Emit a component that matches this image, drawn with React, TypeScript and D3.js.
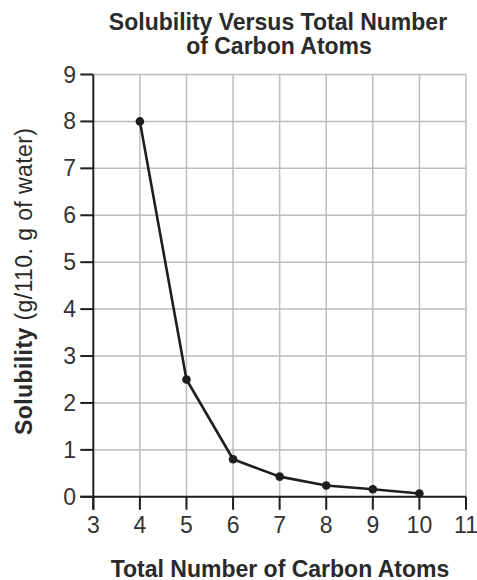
import React from "react";
import * as d3 from "d3";

const carbonAtoms = [4, 5, 6, 7, 8, 9, 10];
const solubility = [8, 2.5, 0.8, 0.43, 0.24, 0.16, 0.07];
const xTicks = [3, 4, 5, 6, 7, 8, 9, 10, 11];
const yTicks = [0, 1, 2, 3, 4, 5, 6, 7, 8, 9];
const titleLines = ["Solubility Versus Total Number", "of Carbon Atoms"];
const xTitle = "Total Number of Carbon Atoms";
const yTitleBold = "Solubility";
const yTitleRest = " (g/110. g of water)";

const W = 477;
const H = 580;
const FONT = "'Liberation Sans', Arial, Helvetica, sans-serif";

export default function App() {
  const x = d3.scaleLinear().domain([3, 11]).range([93.3, 466]);
  const y = d3.scaleLinear().domain([0, 9]).range([496.8, 74.5]);
  const pts = carbonAtoms.map((c, i) => [x(c), y(solubility[i])] as [number, number]);
  const line = d3.line()(pts) || "";
  const tickLen = 13;
  const ink = "#1e1e1e";
  const grid = "#bdbdbd";

  return (
    <svg
      width={W}
      height={H}
      viewBox={`0 0 ${W} ${H}`}
      style={{ position: "absolute", left: 0, top: 0, background: "#fff" }}
      fontFamily={FONT}
    >
      <rect x={0} y={0} width={W} height={H} fill="#fff" />
      {/* title */}
      <text x={278} y={30} textAnchor="middle" fontWeight="bold" fontSize={23} fill="#2a2a2a">
        {titleLines[0]}
      </text>
      <text x={279} y={54} textAnchor="middle" fontWeight="bold" fontSize={23} fill="#2a2a2a">
        {titleLines[1]}
      </text>

      {/* grid */}
      {yTicks.filter((t) => t > 0).map((t) => (
        <line key={"gy" + t} x1={x(3)} x2={x(11)} y1={y(t)} y2={y(t)} stroke={grid} strokeWidth={1.5} />
      ))}
      {xTicks.filter((t) => t > 3).map((t) => (
        <line key={"gx" + t} x1={x(t)} x2={x(t)} y1={y(9)} y2={y(0)} stroke={grid} strokeWidth={1.5} />
      ))}

      {/* axes */}
      <line x1={x(3)} x2={x(3)} y1={y(9)} y2={y(0) + tickLen} stroke={ink} strokeWidth={2} />
      <line x1={x(3) - tickLen} x2={x(11)} y1={y(0)} y2={y(0)} stroke={ink} strokeWidth={2} />
      {yTicks.map((t) => (
        <g key={"yt" + t}>
          <line x1={x(3) - tickLen} x2={x(3)} y1={y(t)} y2={y(t)} stroke={ink} strokeWidth={2} />
          <text x={76} y={y(t)} dy="0.35em" textAnchor="end" fontSize={23} fill="#333">
            {t}
          </text>
        </g>
      ))}
      {xTicks.map((t) => (
        <g key={"xt" + t}>
          <line x1={x(t)} x2={x(t)} y1={y(0)} y2={y(0) + tickLen} stroke={ink} strokeWidth={2} />
          <text x={x(t)} y={533} textAnchor="middle" fontSize={23} fill="#333">
            {t}
          </text>
        </g>
      ))}

      {/* data */}
      <path d={line} fill="none" stroke={ink} strokeWidth={2.6} strokeLinejoin="round" />
      {pts.map((p, i) => (
        <circle key={"p" + i} cx={p[0]} cy={p[1]} r={4.3} fill={ink} />
      ))}

      {/* axis titles */}
      <text x={280} y={576.5} textAnchor="middle" fontWeight="bold" fontSize={23} fill="#2a2a2a">
        {xTitle}
      </text>
      <text
        transform={`translate(31.5, ${281.5}) rotate(-90)`}
        textAnchor="middle"
        fontSize={23}
        fill="#2a2a2a"
        textLength={307}
      >
        <tspan fontWeight="bold">{yTitleBold}</tspan>
        <tspan>{yTitleRest}</tspan>
      </text>
    </svg>
  );
}
